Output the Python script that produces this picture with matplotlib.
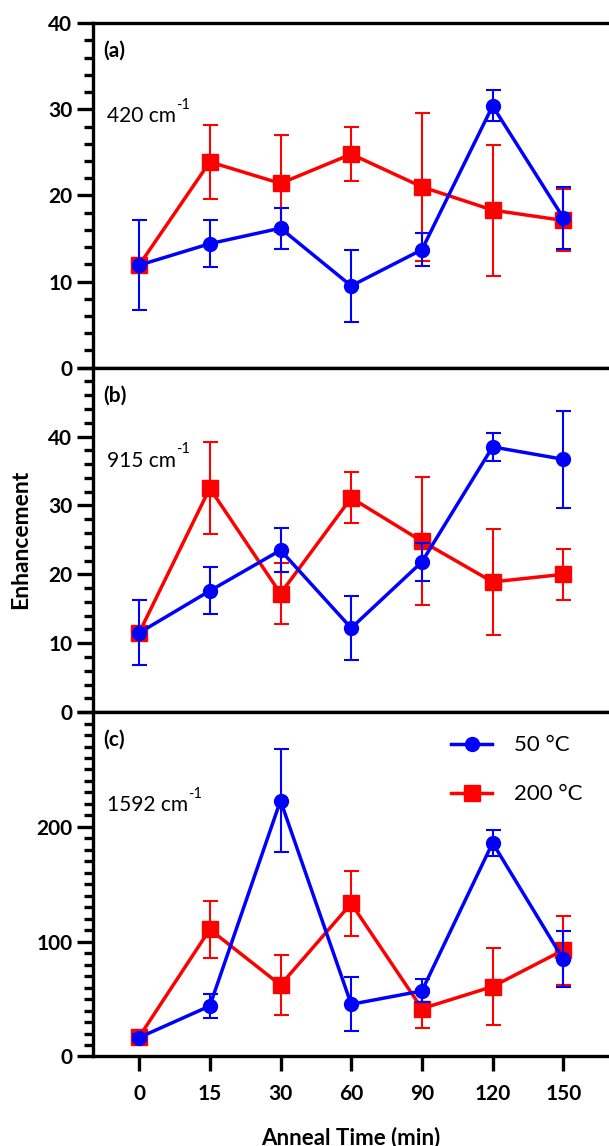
import matplotlib
matplotlib.use("Agg")
import matplotlib.pyplot as plt
from matplotlib.ticker import MultipleLocator

plt.rcParams['font.family'] = ['Lato', 'DejaVu Sans']

# anneal times (categorical x axis)
times = ["0", "15", "30", "60", "90", "120", "150"]

# (a) 420 cm-1
a_50 = [11.9, 14.4, 16.2, 9.5, 13.7, 30.4, 17.4]
a_50_err = [5.2, 2.7, 2.4, 4.2, 1.9, 1.8, 3.6]
a_200 = [11.9, 23.9, 21.4, 24.8, 21.0, 18.3, 17.1]
a_200_err = [0.8, 4.3, 5.6, 3.1, 8.6, 7.6, 3.6]

# (b) 915 cm-1
b_50 = [11.5, 17.6, 23.5, 12.2, 21.8, 38.5, 36.7]
b_50_err = [4.7, 3.4, 3.2, 4.6, 2.8, 2.0, 7.0]
b_200 = [11.5, 32.5, 17.2, 31.1, 24.8, 18.9, 20.0]
b_200_err = [0.8, 6.7, 4.4, 3.7, 9.3, 7.7, 3.7]

# (c) 1592 cm-1
c_50 = [16.5, 44.0, 222.9, 45.5, 57.1, 186.1, 84.6]
c_50_err = [3.0, 10.6, 44.6, 23.4, 10.0, 11.6, 24.4]
c_200 = [17.0, 110.7, 62.3, 133.3, 41.7, 60.9, 92.7]
c_200_err = [3.0, 25.0, 26.0, 28.0, 17.0, 33.7, 30.0]

panels = [
    ("(a)", "420", a_50, a_50_err, a_200, a_200_err, 40, 10, 2),
    ("(b)", "915", b_50, b_50_err, b_200, b_200_err, 50, 10, 2),
    ("(c)", "1592", c_50, c_50_err, c_200, c_200_err, 300, 100, 10),
]

BLUE = "#0000FF"
RED = "#FF0000"

fig, axes = plt.subplots(3, 1, sharex=True, figsize=(6.09, 11.46), dpi=100)
fig.subplots_adjust(left=0.152, right=1.0, top=0.9797, bottom=0.0781, hspace=0)

x = list(range(len(times)))

for i, (ax, (tag, band, s50, e50, s200, e200, ymax, major, minor)) in enumerate(zip(axes, panels)):
    eb_red = ax.errorbar(x, s200, yerr=e200, color=RED, marker='s', markersize=11,
                         linewidth=2.5, elinewidth=1.5, capsize=5.4, capthick=1.5,
                         zorder=2)
    eb_blue = ax.errorbar(x, s50, yerr=e50, color=BLUE, marker='o', markersize=10,
                          linewidth=2.5, elinewidth=1.5, capsize=5.4, capthick=1.5,
                          zorder=3)

    ax.set_ylim(0, ymax)
    ticks = list(range(0, ymax + 1, major))
    ax.set_yticks(ticks)
    # top tick of the lower panels sits on the panel above, so leave it blank
    labels = [str(t) for t in ticks]
    if i > 0:
        labels[-1] = ""
    ax.set_yticklabels(labels, fontsize=15, fontweight='bold')
    ax.yaxis.set_minor_locator(MultipleLocator(minor))

    for side in ['left', 'top', 'bottom']:
        ax.spines[side].set_linewidth(2.4)
    ax.spines['right'].set_visible(False)

    ax.tick_params(axis='y', which='major', direction='out', length=11.5, width=2.4, pad=3)
    ax.tick_params(axis='y', which='minor', direction='out', length=6.5, width=2.4)
    ax.tick_params(axis='x', which='both', bottom=(i == 2), length=11, width=2.4, pad=9)

    ax.text(0.02, 0.92, tag, transform=ax.transAxes, fontsize=15, fontweight='bold',
            va='center', ha='left')
    t = ax.text(0.028, 0.73, band + " cm", transform=ax.transAxes, fontsize=15,
                va='center', ha='left')
    ax.annotate("-1", xy=(1.0, 0.72), xycoords=t, fontsize=10.5,
                va='bottom', ha='left')

ax = axes[2]
ax.set_xlim(-0.658, 6.646)
ax.set_xticks(x)
ax.set_xticklabels(times, fontsize=15, fontweight='bold')
ax.set_xlabel("Anneal Time (min)", fontsize=16, fontweight='bold', labelpad=16)

# legend shows only line + marker, no error bars
ax.legend([eb_blue[0], eb_red[0]], ["50 \u00b0C", "200 \u00b0C"], loc='upper left',
          bbox_to_anchor=(0.677, 0.958), borderaxespad=0, frameon=False, fontsize=16,
          handlelength=1.85, handletextpad=1.0, labelspacing=1.3)

fig.text(20.5 / 609, 1 - 539 / 1146, "Enhancement", rotation=90, fontsize=16.5,
         fontweight='bold', ha='center', va='center')

fig.savefig("out.png", dpi=100)
